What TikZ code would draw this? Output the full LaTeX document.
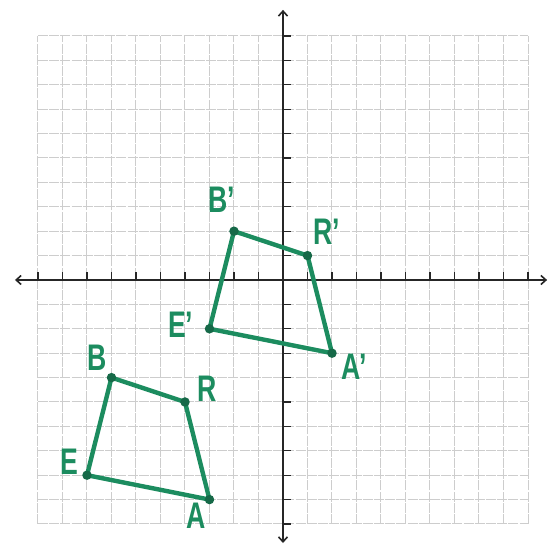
\documentclass[tikz,border=0pt]{standalone}
\usepackage{fontspec}
\setmainfont{Liberation Sans}
\usetikzlibrary{arrows.meta}
\definecolor{pen}{RGB}{28,140,95}
\definecolor{pendot}{RGB}{22,105,72}
\definecolor{gridc}{RGB}{205,205,205}
\tikzset{
  gridline/.style={draw=gridc,line width=1pt,dash pattern=on 10pt off 1.2pt},
  axisline/.style={draw=black!85,line width=1.6pt,{Straight Barb[length=5pt,width=9pt]}-{Straight Barb[length=5pt,width=9pt]}},
  tickmark/.style={draw=black!85,line width=1.3pt},
  quadline/.style={draw=pen,line width=4.4pt,line join=round,line cap=round},
  vdot/.style={circle,fill=pendot,inner sep=0pt,minimum size=9.5pt},
  vlabel/.style={text=pen,font=\bfseries\fontsize{37}{37}\selectfont,xscale=0.72,inner sep=0pt}
}
\begin{document}
\begin{tikzpicture}[x=24.5pt,y=24.4pt]
\useasboundingbox (-11.551,-11.148) rectangle (10.816,11.475);
% grid
\foreach \i in {-10,...,10}{
  \draw[gridline] (\i,-10) -- (\i,10);
  \draw[gridline] (-10,\i) -- (10,\i);
}
% axes
\coordinate (xl) at (-10.94,0);
\coordinate (xr) at (10.78,0);
\coordinate (yb) at (0,-10.78);
\coordinate (yt) at (0,11.07);
\draw[axisline] (xl) -- (xr);
\draw[axisline] (yb) -- (yt);
\foreach \i in {-10,...,10}{
  \draw[tickmark] (\i,0) -- (\i,0.32);
  \draw[tickmark] (0,\i) -- (0.32,\i);
}
% image
\coordinate (Bp) at (-2,2);
\coordinate (Rp) at (1,1);
\coordinate (Ap) at (2,-3);
\coordinate (Ep) at (-3,-2);
\draw[quadline] (Bp) -- (Rp) -- (Ap) -- (Ep) -- cycle;
% preimage
\coordinate (B) at (-7,-4);
\coordinate (R) at (-4,-5);
\coordinate (A) at (-3,-9);
\coordinate (E) at (-8,-8);
\draw[quadline] (B) -- (R) -- (A) -- (E) -- cycle;
\foreach \p in {Bp,Rp,Ap,Ep,B,R,A,E}{
  \node[vdot] (d\p) at (\p) {};
}
% labels
\node[vlabel] (lBp) at (-2.5,3.28) {B’};
\node[vlabel] (lRp) at (1.78,1.97) {R’};
\node[vlabel] (lEp) at (-4.18,-1.84) {E’};
\node[vlabel] (lAp) at (2.92,-3.57) {A’};
\node[vlabel] (lB) at (-7.6,-3.2) {B};
\node[vlabel] (lR) at (-3.1,-4.47) {R};
\node[vlabel] (lE) at (-8.7,-7.46) {E};
\node[vlabel] (lA) at (-3.55,-9.67) {A};
\end{tikzpicture}
\end{document}
